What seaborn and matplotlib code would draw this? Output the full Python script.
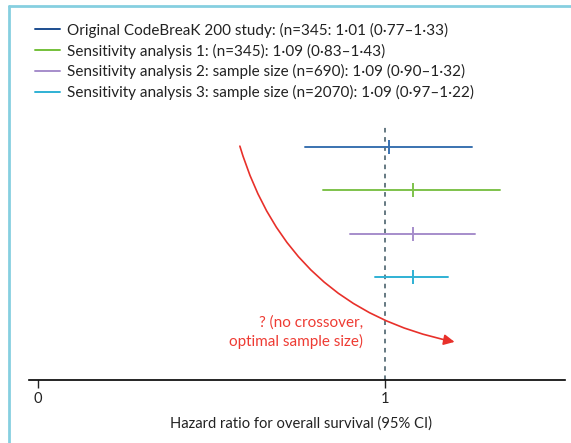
import numpy as np
import pandas as pd
import matplotlib
matplotlib.use("Agg")
import matplotlib.pyplot as plt
import seaborn as sns
from matplotlib.lines import Line2D

# ---- data ----
studies = ["Original", "Sensitivity 1", "Sensitivity 2", "Sensitivity 3"]
legend_labels = [
    "Original CodeBreaK 200 study: (n=345: 1·01 (0·77–1·33)",
    "Sensitivity analysis 1: (n=345): 1·09 (0·83–1·43)",
    "Sensitivity analysis 2: sample size (n=690): 1·09 (0·90–1·32)",
    "Sensitivity analysis 3: sample size (n=2070): 1·09 (0·97–1·22)",
]
hr_point = [1.01, 1.08, 1.08, 1.08]
ci_low = [0.77, 0.82, 0.90, 0.97]
ci_high = [1.25, 1.33, 1.26, 1.18]
line_colors = ["#3a72b0", "#7ec24b", "#a68dcb", "#2fb1d4"]
legend_colors = ["#1c4d8f", "#74c03a", "#a68dcb", "#2fb1d4"]
tick_values = [0, 1]
tick_labels = ["0", "1"]
x_label = "Hazard ratio for overall survival (95% CI)"
note_text = "? (no crossover,\noptimal sample size)"

sns.set_theme(style="white")
plt.rcParams["font.family"] = ["Lato", "DejaVu Sans"]

rows = []
for s, lo, pt, hi in zip(studies, ci_low, hr_point, ci_high):
    for v in (lo, pt, hi):
        rows.append({"study": s, "value": v})
df = pd.DataFrame(rows)

W, H = 571, 443
fig = plt.figure(figsize=(W / 100, H / 100), dpi=100)
ax = fig.add_axes([29 / W, 63 / H, (565 - 29) / W, (380 - 115) / H])

sns.pointplot(
    data=df, x="value", y="study", hue="study", order=studies, hue_order=studies,
    palette=line_colors, orient="h", estimator=np.median,
    errorbar=lambda v: (v.min(), v.max()),
    markers="|", linestyles="none", markersize=10, markeredgewidth=1.4,
    err_kws={"linewidth": 1.4}, legend=False, ax=ax,
)

ax.set_xlim(-0.025, 1.518)
ax.set_ylim(5.38, -0.739)
for side in ["top", "right", "left"]:
    ax.spines[side].set_visible(False)
ax.spines["bottom"].set_color("black")
ax.spines["bottom"].set_linewidth(1.2)
ax.set_yticks([])
ax.set_ylabel("")
ax.set_xticks(tick_values)
ax.set_xticklabels(tick_labels)
ax.tick_params(axis="x", direction="out", length=5.5, width=1, color="#222222",
               labelsize=10.5, labelcolor="#222222", pad=3.2, bottom=True)
ax.set_xlabel(x_label, fontsize=10.6, color="#222222")
ax.xaxis.set_label_coords((301 - 29) / 536, (380 - 424) / 265)
ax.xaxis.label.set_va("center")

ax.axvline(1, ymin=0, ymax=(380 - 125) / 265, color="#3c5560", lw=1.1,
           ls=(0, (3, 3)), zorder=0)

# curved arrow
ax.annotate("", xy=(1.20, 4.50), xytext=(0.582, -0.02),
            arrowprops=dict(arrowstyle="-|>", color="#e8302a", lw=1.2,
                            mutation_scale=16,
                            connectionstyle="arc3,rad=0.3", shrinkA=0, shrinkB=0))
ax.text(0.937, 4.27, note_text, color="#ee3b33", fontsize=11, ha="right",
        va="center", multialignment="right", linespacing=1.35)

handles = [Line2D([0], [0], color=c, lw=1.4) for c in legend_colors]
fig.legend(handles, legend_labels, loc="upper left",
           bbox_to_anchor=(30 / W, 1 - 18 / H), frameon=False, fontsize=11,
           handlelength=1.65, handletextpad=0.45, labelspacing=0.38,
           labelcolor="#222222", borderaxespad=0, borderpad=0.3)

# border of the panel
fig.add_artist(Line2D([9 / W, 1], [1 - 6 / H, 1 - 6 / H], color="#86cfe0", lw=2,
                      transform=fig.transFigure))
fig.add_artist(Line2D([9 / W, 9 / W], [0, 1 - 6 / H], color="#86cfe0", lw=2,
                      transform=fig.transFigure))

fig.savefig("out.png", dpi=100)
